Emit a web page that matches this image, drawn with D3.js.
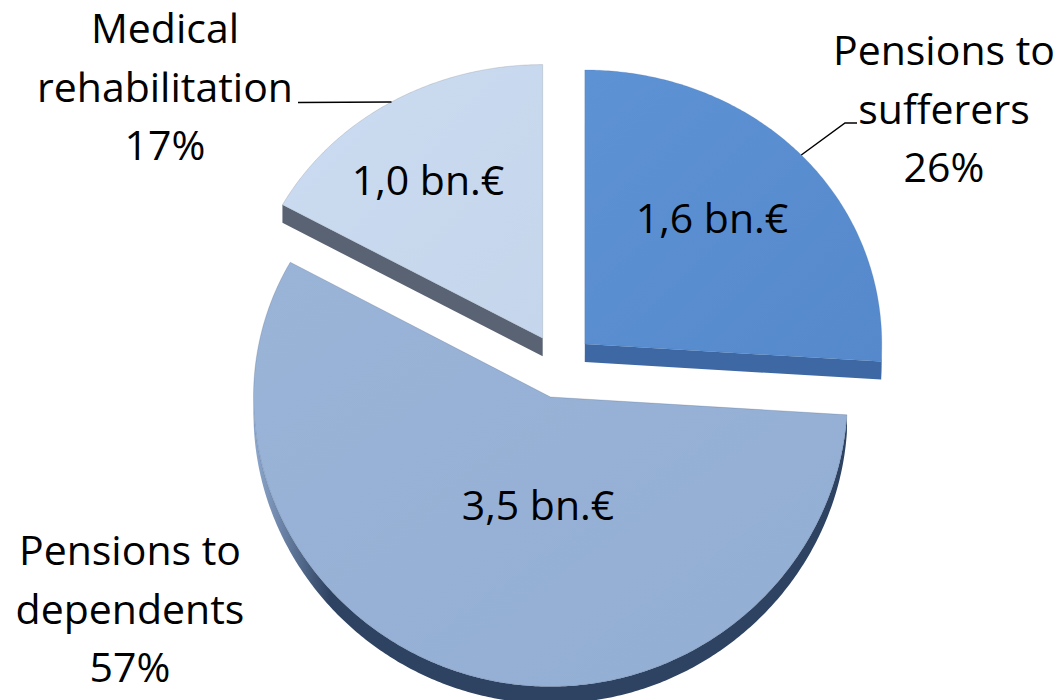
<!DOCTYPE html>
<html><head><meta charset="utf-8">
<script src="https://cdn.jsdelivr.net/npm/d3@7"></script>
<style>body{margin:0;background:#fff} svg{display:block} text{font-family:"Open Sans",sans-serif;fill:#000}</style>
</head><body><svg id="c" width="1061" height="700"></svg>
<script>
// ---- data ----
const categories = ["Pensions to sufferers", "Pensions to dependents", "Medical rehabilitation"];
const percents = [26, 57, 17];
const amountLabels = ["1,6 bn.€", "3,5 bn.€", "1,0 bn.€"];
const nameLines = [["Pensions to", "sufferers"], ["Pensions to", "dependents"], ["Medical", "rehabilitation"]];
const pctLabels = ["26%", "57%", "17%"];

// ---- style / layout ----
const topColors = ["#5589cb", "#93aed3", "#c5d6ec"];
const topLight = ["#5d92d4", "#9ab4d8", "#cbdbf0"];
const sideColors = ["#3e68a3", "#2e4262", "#5a6373"];
const sideLight = ["#3e68a3", "#93aed3", "#5a6373"];
const outerPos = [[944, 65], [130, 565], [165, 43]];
const innerPos = [[712, 233], [538, 520], [428, 195]];
const lineH = 58.5;

const W = 1061, H = 700;
const R = 297, cx = 560, cy = 366, depth = 17, explode = 34;
const rScale = d3.scaleLinear().domain([0, 1]).range([0, R]);

function proj(u, v) {
  const s = 0.948 + 0.022 * v / R;
  return [cx + u, cy + v * s];
}

const svg = d3.select("#c");
const defs = svg.append("defs");
topColors.forEach((c, i) => {
  const g = defs.append("linearGradient").attr("id", "g" + i)
    .attr("x1", "0").attr("y1", "0").attr("x2", "1").attr("y2", "1");
  g.append("stop").attr("offset", "0").attr("stop-color", topLight[i]);
  g.append("stop").attr("offset", "1").attr("stop-color", c);
  const w = defs.append("linearGradient").attr("id", "w" + i)
    .attr("gradientUnits", "userSpaceOnUse")
    .attr("x1", 250).attr("y1", 0).attr("x2", 330).attr("y2", 0);
  w.append("stop").attr("offset", "0").attr("stop-color", sideLight[i]);
  w.append("stop").attr("offset", "1").attr("stop-color", sideColors[i]);
});

const pie = d3.pie().sort(null).value(d => d).startAngle(0).endAngle(2 * Math.PI);
const arcs = pie(percents);

const line = d3.line();

function slicePt(a, th, r, dz) {
  const mid = (a.startAngle + a.endAngle) / 2;
  const ox = explode * Math.sin(mid), oy = -explode * Math.cos(mid);
  const p = proj(ox + r * Math.sin(th), oy - r * Math.cos(th));
  return [p[0], p[1] + (dz || 0)];
}

function arcPts(a, t0, t1, dz) {
  const n = Math.max(2, Math.ceil(Math.abs(t1 - t0) / 0.01));
  return d3.range(n + 1).map(k => slicePt(a, t0 + (t1 - t0) * k / n, rScale(1), dz));
}

// draw order: back slices first
const order = [2, 0, 1];
order.forEach(i => {
  const a = arcs[i];
  const g = svg.append("g");
  const s0 = a.startAngle, s1 = a.endAngle;
  const edges = [];
  if (Math.cos(s0 - Math.PI / 2) < -0.01) edges.push(s0);
  if (Math.cos(s1 + Math.PI / 2) < -0.01) edges.push(s1);
  edges.forEach(th => {
    const A = slicePt(a, th, 0), P = slicePt(a, th, rScale(1));
    g.append("path").attr("d", line([A, P, [P[0], P[1] + depth + 1], [A[0], A[1] + depth + 1]]) + "Z")
      .attr("fill", sideColors[i]);
  });
  const w0 = Math.max(s0, Math.PI / 2), w1 = Math.min(s1, 3 * Math.PI / 2);
  if (w1 > w0) {
    const top = arcPts(a, w0, w1, 0), bot = arcPts(a, w1, w0, depth);
    g.append("path").attr("d", line(top.concat(bot)) + "Z").attr("fill", `url(#w${i})`);
  }
  const pts = [slicePt(a, s0, 0)].concat(arcPts(a, s0, s1, 0));
  g.append("path").attr("d", line(pts) + "Z").attr("fill", `url(#g${i})`)
    .attr("stroke", sideColors[i]).attr("stroke-opacity", 0.25).attr("stroke-width", 0.8);
});

// leader lines
const anchorS = slicePt(arcs[0], (arcs[0].startAngle + arcs[0].endAngle) / 2, rScale(1));
svg.append("path").attr("d", line([anchorS, [845, 123], [857, 123]]))
  .attr("fill", "none").attr("stroke", "#000").attr("stroke-width", 1.5);
const anchorM = slicePt(arcs[2], (arcs[2].startAngle + arcs[2].endAngle) / 2, rScale(1));
svg.append("path").attr("d", line([anchorM, [298, anchorM[1] + 0.5]]))
  .attr("fill", "none").attr("stroke", "#000").attr("stroke-width", 1.5);

// outer labels
categories.forEach((c, i) => {
  const t = svg.append("text").attr("text-anchor", "middle").attr("font-size", 41)
    .attr("x", outerPos[i][0]).attr("y", outerPos[i][1]);
  nameLines[i].concat([pctLabels[i]]).forEach((s, k) => {
    t.append("tspan").attr("x", outerPos[i][0]).attr("dy", k === 0 ? 0 : lineH).text(s);
  });
});
// inner labels
amountLabels.forEach((s, i) => {
  svg.append("text").attr("text-anchor", "middle").attr("font-size", 41)
    .attr("x", innerPos[i][0]).attr("y", innerPos[i][1]).text(s);
});
</script></body></html>
